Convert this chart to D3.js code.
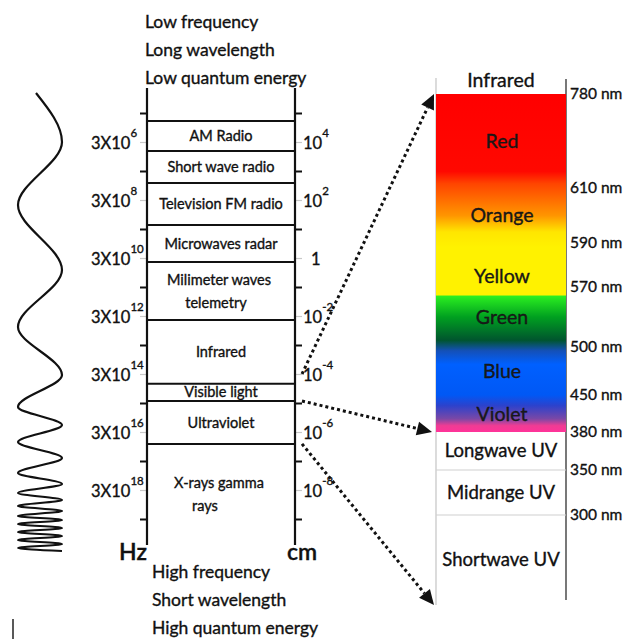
<!DOCTYPE html>
<html>
<head>
<meta charset="utf-8">
<script src="https://cdn.jsdelivr.net/npm/d3@7/dist/d3.min.js"></script>
<style>
  html, body { margin: 0; padding: 0; background: #ffffff; }
  svg { display: block; }
  text { font-family: Lato, "Open Sans", sans-serif; fill: #111; stroke: #111; stroke-width: 0.35px; }
</style>
</head>
<body>
<div id="chart"></div>
<script>
// ---------------- DATA ----------------
const topNotes = ["Low frequency", "Long wavelength", "Low quantum energy"];
const bottomNotes = ["High frequency", "Short wavelength", "High quantum energy"];

// frequency exponents (Hz = 3 x 10^e) labelled on the left, wavelength exponents on the right
const freqExponents = [6, 8, 10, 12, 14, 16, 18];
const waveLabels = ["4", "2", "", "-2", "-4", "-6", "-8"];   // "" means plain "1"
const majorTickExponents = [5, 7, 9, 11, 13, 15, 17, 19];
const axisExtent = [4.14, 19.9];

// band boundaries (in frequency exponent units) and band names
const bandBounds = [5.28, 6.31, 7.41, 8.86, 10.14, 12.14, 14.34, 14.93, 16.41, 19.9];
const bandNames = [
  ["AM Radio"],
  ["Short wave radio"],
  ["Television FM radio"],
  ["Microwaves radar"],
  ["Milimeter waves", "telemetry"],
  ["Infrared"],
  ["Visible light"],
  ["Ultraviolet"],
  ["X-rays gamma", "rays"]
];

// wavelengths (nm) marked on the visible / UV panel
const nmTicks = [780, 610, 590, 570, 500, 450, 380, 350, 300];
const colorNames = ["Red", "Orange", "Yellow", "Green", "Blue", "Violet"];
const colorLabelNm = [695, 600, 575, 535, 475, 414];
const uvNames = ["Longwave UV", "Midrange UV", "Shortwave UV"];
const uvBounds = [380, 350, 300, 100];

// spectrum colour stops (nm, colour)
const spectrumNm = [780, 640, 618, 600, 594, 588, 561, 559, 535, 508, 496, 482, 450, 430, 405, 392, 380];
const spectrumColors = ["#ff0000", "#ff0800", "#ff4400", "#ff9500", "#ffe600", "#fff200", "#fff200",
  "#2aee20", "#00a020", "#00552e", "#1450b8", "#0060ff", "#0058f5", "#2c42cc", "#7a48a6", "#f03c94", "#ff3399"];

// illustrative wave: turning-point rows
const waveRows = [93, 142, 205, 270, 327, 375, 407, 425, 442, 458, 473, 484, 493, 500, 506, 511, 516,
  520, 524, 528, 532, 536, 540, 544, 548, 551];

// arrows: from frequency exponent on left column to wavelength on right panel
const arrowFrom = [14.0, 14.93, 16.41];
const arrowTo = [780, 380, 100];

// ---------------- LAYOUT ----------------
const W = 631, H = 639;
const svg = d3.select("#chart").append("svg").attr("width", W).attr("height", H);
svg.append("rect").attr("width", W).attr("height", H).attr("fill", "#fff");

const colL = 147, colR = 295;
const y = d3.scaleLinear().domain([6, 18]).range([142, 490]);

const barL = 436, barR = 566;
const yNm = d3.scaleLinear()
  .domain([780, 610, 590, 570, 500, 450, 380, 350, 300, 100])
  .range([94, 188, 243, 287, 347, 395, 432, 470, 515, 605]);

// ---------- wave ----------
const wavePts = waveRows.map((r, i) => ({ x: i === 0 ? 36 : (i % 2 === 1 ? 62 : 18), y: r }));
svg.append("path")
  .attr("d", d3.line().x(d => d.x).y(d => d.y).curve(d3.curveMonotoneY)(wavePts))
  .attr("fill", "none").attr("stroke", "#111").attr("stroke-width", 2.2);

// stray mark bottom-left
svg.append("line").attr("x1", 13).attr("x2", 13).attr("y1", 619).attr("y2", 639)
  .attr("stroke", "#222").attr("stroke-width", 1.5);

// ---------- top / bottom notes ----------
svg.selectAll("text.top").data(topNotes).join("text").attr("class", "top")
  .attr("x", 145).attr("y", (d, i) => 28 + i * 28).attr("font-size", 17.5).text(d => d);
svg.selectAll("text.bot").data(bottomNotes).join("text").attr("class", "bot")
  .attr("x", 152).attr("y", (d, i) => 578 + i * 28).attr("font-size", 17.5).text(d => d);

// ---------- left column axes ----------
const gAxL = svg.append("g").attr("transform", `translate(${colL},0)`)
  .call(d3.axisLeft(y).tickValues(majorTickExponents).tickSize(7).tickFormat(""));
const gAxR = svg.append("g").attr("transform", `translate(${colR},0)`)
  .call(d3.axisRight(y).tickValues(majorTickExponents).tickSize(7).tickFormat(""));
[gAxL, gAxR].forEach(g => {
  g.select(".domain").remove();
  g.selectAll(".tick line").attr("stroke", "#111").attr("stroke-width", 2);
});
// faint ticks at labelled values
const gMinL = svg.append("g").attr("transform", `translate(${colL},0)`)
  .call(d3.axisLeft(y).tickValues(freqExponents).tickSize(7).tickFormat(""));
const gMinR = svg.append("g").attr("transform", `translate(${colR},0)`)
  .call(d3.axisRight(y).tickValues(freqExponents).tickSize(7).tickFormat(""));
[gMinL, gMinR].forEach(g => {
  g.select(".domain").remove();
  g.selectAll(".tick line").attr("stroke", "#c8c8c8").attr("stroke-width", 1.2);
});

// vertical column lines
[colL, colR].forEach(x => {
  svg.append("line").attr("x1", x).attr("x2", x)
    .attr("y1", y(axisExtent[0])).attr("y2", y(axisExtent[1]))
    .attr("stroke", "#111").attr("stroke-width", 2.2);
});

// band boundary lines
svg.selectAll("line.band").data(bandBounds.slice(0, -1)).join("line").attr("class", "band")
  .attr("x1", colL).attr("x2", colR).attr("y1", d => y(d)).attr("y2", d => y(d))
  .attr("stroke", "#111").attr("stroke-width", 2);

// band names
bandNames.forEach((lines, i) => {
  const mid = y((bandBounds[i] + bandBounds[i + 1]) / 2);
  const n = lines.length;
  lines.forEach((ln, j) => {
    const dx = (n > 1 && j === 1) ? (i === 8 ? -16 : -5) : (n > 1 ? -2 : 0);
    svg.append("text")
      .attr("x", (colL + colR) / 2 + dx)
      .attr("y", mid + (j - (n - 1) / 2) * 23)
      .attr("dy", "0.35em")
      .attr("text-anchor", "middle")
      .attr("font-size", 14.5)
      .text(ln);
  });
});

// left frequency labels
freqExponents.forEach(e => {
  const t = svg.append("text").attr("x", 91).attr("y", y(e) + 7).attr("font-size", 16.5);
  t.append("tspan").text("3X10");
  t.append("tspan").attr("dy", -12).attr("font-size", 11.5).text(e);
});
// right wavelength labels
waveLabels.forEach((s, i) => {
  const yy = y(freqExponents[i]) + 7;
  if (s === "") {
    svg.append("text").attr("x", 311).attr("y", yy).attr("font-size", 16.5).text("1");
  } else {
    const t = svg.append("text").attr("x", 303).attr("y", yy).attr("font-size", 16.5);
    t.append("tspan").text("10");
    t.append("tspan").attr("dy", -12).attr("font-size", 11.5).text(s);
  }
});

// Hz / cm
svg.append("text").attr("x", 147).attr("y", 560).attr("text-anchor", "end")
  .attr("font-size", 23).attr("font-weight", 600).text("Hz");
svg.append("text").attr("x", 302).attr("y", 560).attr("text-anchor", "middle")
  .attr("font-size", 23).attr("font-weight", 600).text("cm");

// ---------- right panel ----------
const defs = svg.append("defs");
const grad = defs.append("linearGradient").attr("id", "spec")
  .attr("gradientUnits", "userSpaceOnUse")
  .attr("x1", 0).attr("x2", 0).attr("y1", yNm(780)).attr("y2", yNm(380));
spectrumNm.forEach((nm, i) => {
  grad.append("stop")
    .attr("offset", (yNm(nm) - yNm(780)) / (yNm(380) - yNm(780)))
    .attr("stop-color", spectrumColors[i]);
});

// panel frame lines
svg.append("line").attr("x1", barL).attr("x2", barL).attr("y1", 78).attr("y2", yNm(100))
  .attr("stroke", "#c4c4c4").attr("stroke-width", 1.2);
svg.append("line").attr("x1", barR).attr("x2", barR).attr("y1", 79).attr("y2", 600)
  .attr("stroke", "#6a6a6a").attr("stroke-width", 1.8);

svg.append("rect").attr("x", barL).attr("y", yNm(780))
  .attr("width", barR - barL).attr("height", yNm(380) - yNm(780))
  .attr("fill", "url(#spec)");

// UV dividing lines
svg.selectAll("line.uv").data(uvBounds.slice(1, 3)).join("line").attr("class", "uv")
  .attr("x1", barL).attr("x2", barR).attr("y1", d => yNm(d)).attr("y2", d => yNm(d))
  .attr("stroke", "#cfcfcf").attr("stroke-width", 1.2);

svg.append("text").attr("x", (barL + barR) / 2).attr("y", 87).attr("text-anchor", "middle")
  .attr("font-size", 19.5).text("Infrared");

colorNames.forEach((c, i) => {
  svg.append("text").attr("x", (barL + barR) / 2 + 1).attr("y", yNm(colorLabelNm[i]))
    .attr("dy", "0.35em").attr("text-anchor", "middle")
    .attr("font-size", 19.5).style("fill", "#1a1a1a").text(c);
});
uvNames.forEach((c, i) => {
  svg.append("text").attr("x", (barL + barR) / 2).attr("y", (yNm(uvBounds[i]) + yNm(uvBounds[i + 1])) / 2)
    .attr("dy", "0.35em").attr("text-anchor", "middle")
    .attr("font-size", 18.5).text(c);
});

nmTicks.forEach(nm => {
  svg.append("text").attr("x", 570).attr("y", yNm(nm)).attr("dy", "0.35em")
    .attr("font-size", 15.5).text(nm + " nm");
});

// ---------- arrows ----------
arrowFrom.forEach((e, i) => {
  const x0 = colR + 7, y0 = y(e);
  const x1 = i === 1 ? barL - 4 : barL - 2, y1 = yNm(arrowTo[i]);
  const ang = Math.atan2(y1 - y0, x1 - x0);
  const L = 15, Wd = 7;
  const bx = x1 - L * Math.cos(ang), by = y1 - L * Math.sin(ang);
  svg.append("line").attr("x1", x0).attr("y1", y0).attr("x2", bx).attr("y2", by)
    .attr("stroke", "#111").attr("stroke-width", 3).attr("stroke-dasharray", "3,3");
  const px = -Math.sin(ang) * Wd, py = Math.cos(ang) * Wd;
  svg.append("path")
    .attr("d", `M${x1},${y1}L${bx + px},${by + py}L${bx - px},${by - py}Z`)
    .attr("fill", "#111");
});
</script>
</body>
</html>
